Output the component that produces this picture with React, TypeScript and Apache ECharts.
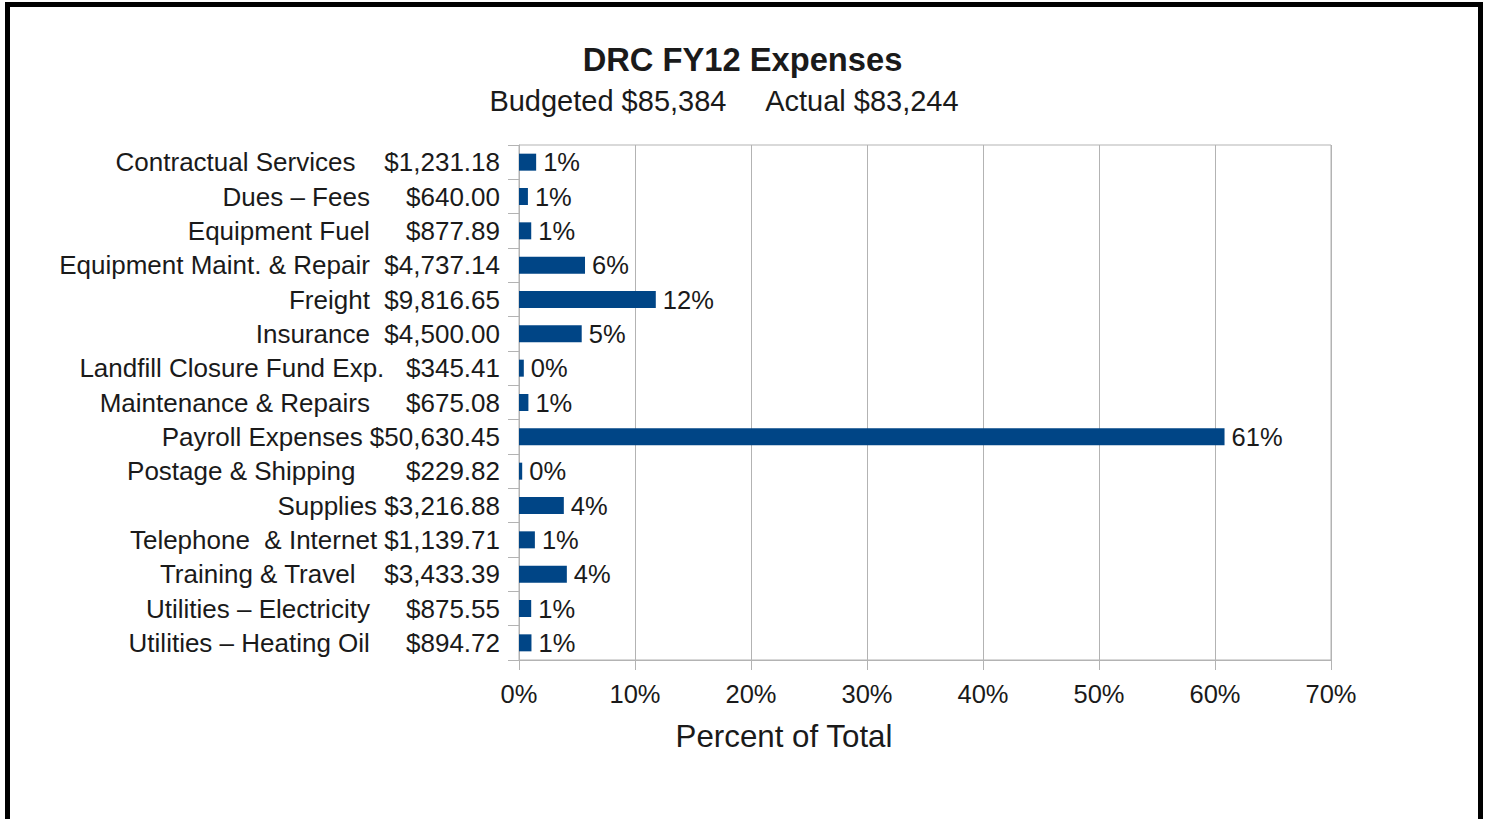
import React, { useEffect, useRef } from "react";
import * as echarts from "echarts";

const names = [
  "Contractual Services    ",
  "Dues – Fees     ",
  "Equipment Fuel     ",
  "Equipment Maint. & Repair  ",
  "Freight  ",
  "Insurance  ",
  "Landfill Closure Fund Exp.   ",
  "Maintenance & Repairs     ",
  "Payroll Expenses ",
  "Postage & Shipping       ",
  "Supplies ",
  "Telephone  & Internet ",
  "Training & Travel    ",
  "Utilities – Electricity     ",
  "Utilities – Heating Oil     ",
];
const amounts = [
  1231.18, 640.0, 877.89, 4737.14, 9816.65, 4500.0, 345.41, 675.08, 50630.45,
  229.82, 3216.88, 1139.71, 3433.39, 875.55, 894.72,
];
const xTicks = [0, 10, 20, 30, 40, 50, 60, 70];
const titleText = "DRC FY12 Expenses";
const subtitleText = "Budgeted $85,384     Actual $83,244";
const xAxisTitle = "Percent of Total";

const fmtMoney = (v: number) =>
  "$" + v.toLocaleString("en-US", { minimumFractionDigits: 2, maximumFractionDigits: 2 });

export default function App() {
  const ref = useRef<HTMLDivElement>(null);
  useEffect(() => {
    document.body.style.margin = "0";
    const chart = echarts.init(ref.current!, null, { renderer: "svg" });
    const total = amounts.reduce((a, b) => a + b, 0);
    const percents = amounts.map((a) => (a / total) * 100);
    const categories = names.map((n, i) => n + fmtMoney(amounts[i]));
    const font = "'Liberation Sans', Arial, sans-serif";
    const textColor = "#1a1a1a";
    const gridColor = "#b3b3b3";
    chart.setOption({
      animation: false,
      backgroundColor: "#ffffff",
      title: [
        {
          text: titleText,
          left: "center",
          top: 38,
          textStyle: { fontFamily: font, fontSize: 32.7, fontWeight: "bold", color: textColor },
        },
      ],
      graphic: [
        {
          type: "rect",
          shape: { x: 7.5, y: 4.5, width: 1473, height: 900 },
          style: { fill: "none", stroke: "#000", lineWidth: 5 },
          silent: true,
        },
        {
          type: "text",
          x: 724,
          y: 101,
          style: {
            text: subtitleText,
            fontFamily: font,
            fontSize: 29,
            fill: textColor,
            textAlign: "center",
            textVerticalAlign: "middle",
          },
          silent: true,
        },
        {
          type: "text",
          x: 784,
          y: 736,
          style: {
            text: xAxisTitle,
            fontFamily: font,
            fontSize: 31.3,
            fill: textColor,
            textAlign: "center",
            textVerticalAlign: "middle",
          },
          silent: true,
        },
      ],
      grid: {
        left: 519,
        right: 154,
        top: 145,
        bottom: 159,
        show: true,
        borderColor: gridColor,
        borderWidth: 1,
      },
      xAxis: {
        type: "value",
        min: xTicks[0],
        max: xTicks[xTicks.length - 1],
        interval: xTicks[1] - xTicks[0],
        axisLine: { show: true, lineStyle: { color: gridColor, width: 1 } },
        axisTick: { show: true, length: 10, lineStyle: { color: gridColor } },
        axisLabel: {
          formatter: "{value}%",
          fontFamily: font,
          fontSize: 25.5,
          color: textColor,
          margin: 21,
        },
        splitLine: { show: true, lineStyle: { color: gridColor, width: 1 } },
      },
      yAxis: {
        type: "category",
        inverse: true,
        data: categories,
        axisLine: { show: true, lineStyle: { color: gridColor, width: 1 } },
        axisTick: { show: true, length: 11, lineStyle: { color: gridColor } },
        axisLabel: {
          fontFamily: font,
          fontSize: 26,
          color: textColor,
          margin: 19,
        },
        splitLine: { show: false },
      },
      series: [
        {
          type: "bar",
          data: percents,
          barWidth: 17,
          itemStyle: { color: "#004586" },
          label: {
            show: true,
            position: "right",
            distance: 7,
            formatter: (p: any) => Math.round(p.value) + "%",
            fontFamily: font,
            fontSize: 25.5,
            color: textColor,
          },
        },
      ],
    });
    return () => chart.dispose();
  }, []);
  return <div ref={ref} style={{ width: 1485, height: 819 }} />;
}
